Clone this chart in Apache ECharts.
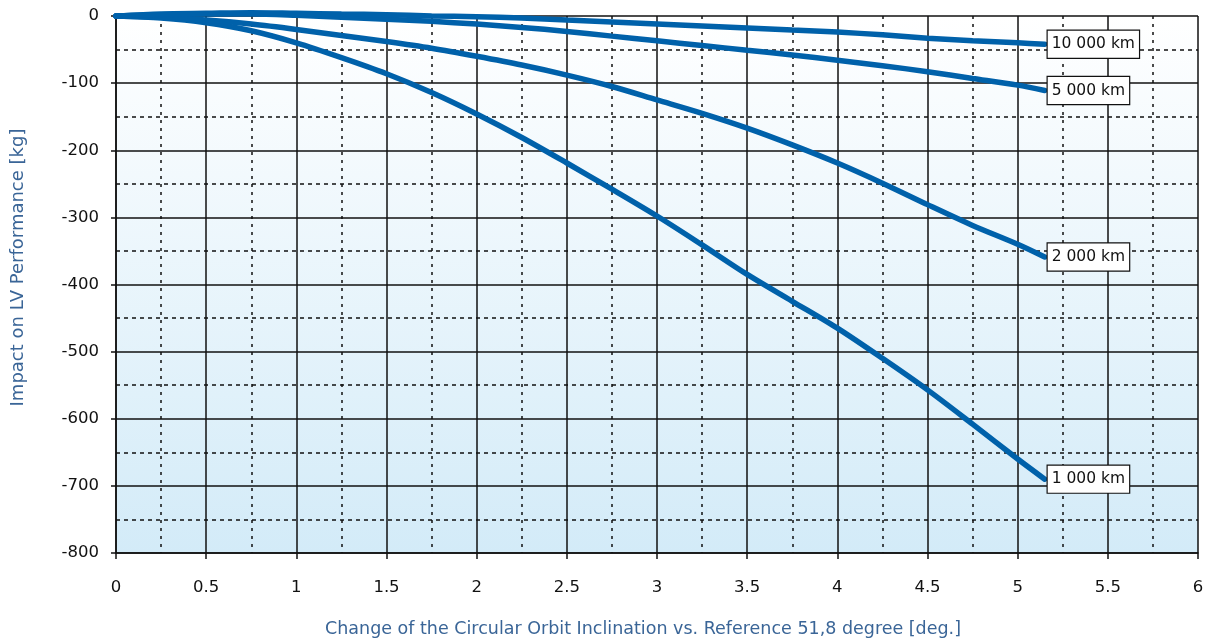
<!DOCTYPE html>
<html>
<head>
<meta charset="utf-8">
<script src="https://cdn.jsdelivr.net/npm/echarts@6/dist/echarts.min.js"></script>
<style>
  html, body { margin: 0; padding: 0; background: #ffffff; }
  #chart { width: 1209px; height: 642px; }
</style>
</head>
<body>
<div id="chart"></div>
<script>
// Inclination change [deg] at which each curve is sampled
const inclination = [0, 0.25, 0.5, 0.75, 1, 1.25, 1.5, 1.75, 2, 2.25, 2.5, 2.75, 3, 3.25, 3.5, 3.75, 4, 4.25, 4.5, 4.75, 5, 5.15];

// Performance impact [kg] per circular orbit altitude
const alt10000 = [0, 3, 4, 5, 4, 3, 2, 0, -1, -3, -6, -9, -12, -15, -18, -21, -24, -28, -33, -37, -40, -42];
const alt5000  = [0, 2, 3, 3, 1, -2, -5, -8, -12, -17, -23, -30, -37, -44, -51, -58, -66, -74, -83, -93, -103, -111];
const alt2000  = [0, -2, -6, -12, -20, -29, -38, -48, -60, -73, -88, -105, -125, -145, -167, -192, -219, -249, -281, -312, -340, -359];
const alt1000  = [0, -3, -10, -22, -40, -62, -86, -114, -146, -181, -219, -258, -298, -341, -385, -425, -465, -510, -557, -608, -660, -690];

const seriesNames = ['10 000 km', '5 000 km', '2 000 km', '1 000 km'];
const seriesValues = [alt10000, alt5000, alt2000, alt1000];

const yTicks = [0, -100, -200, -300, -400, -500, -600, -700, -800];

const chart = echarts.init(document.getElementById('chart'), null, { renderer: 'canvas' });

const lineColor = '#0061aa';
const font = '"DejaVu Sans", sans-serif';
const gridColor = '#111111';
const titleColor = '#3a6597';

const series = seriesNames.map((name, i) => ({
  name: name,
  type: 'line',
  data: inclination.map((x, j) => [x, seriesValues[i][j]]),
  smooth: 0.3,
  showSymbol: false,
  symbol: 'none',
  clip: false,
  z: 5 - i,
  lineStyle: { color: lineColor, width: 5.5, cap: 'round' },
  endLabel: {
    show: true,
    formatter: name,
    distance: 3,
    color: '#111',
    fontFamily: font,
    fontSize: 15.5,
    backgroundColor: '#ffffff',
    borderColor: '#111',
    borderWidth: 1.2,
    padding: [6, 4, 5, 4]
  }
}));

chart.setOption({
  animation: false,
  backgroundColor: '#ffffff',
  grid: {
    left: 116,
    right: 11,
    top: 16,
    bottom: 89,
    outerBoundsMode: 'none',
    containLabel: false,
    show: true,
    borderWidth: 0,
    backgroundColor: {
      type: 'linear', x: 0, y: 0, x2: 0, y2: 1,
      colorStops: [
        { offset: 0, color: '#ffffff' },
        { offset: 1, color: '#d3ebf8' }
      ]
    }
  },
  xAxis: {
    type: 'value',
    min: 0,
    max: 6,
    interval: 0.5,
    name: 'Change of the Circular Orbit Inclination vs. Reference 51,8 degree [deg.]',
    nameLocation: 'middle',
    nameGap: 67,
    nameTextStyle: { color: titleColor, fontFamily: font, fontSize: 17.5, padding: [0, 28, 0, 0] },
    axisLine: { show: true, onZero: false, lineStyle: { color: gridColor, width: 1.5 } },
    axisTick: { show: true, length: 6, lineStyle: { color: gridColor, width: 1.5 } },
    axisLabel: { color: '#111', fontFamily: font, fontSize: 16.5, margin: 26 },
    splitLine: { show: true, lineStyle: { color: gridColor, width: 1.5 } },
    minorTick: { show: false, splitNumber: 2 },
    minorSplitLine: { show: true, lineStyle: { color: gridColor, width: 1.5, type: [3, 5] } }
  },
  yAxis: {
    type: 'value',
    min: -800,
    max: 0,
    interval: 100,
    name: 'Impact on LV Performance [kg]',
    nameLocation: 'middle',
    nameGap: 89,
    nameRotate: 90,
    nameTextStyle: { color: titleColor, fontFamily: font, fontSize: 18, padding: [0, 0, 0, 34] },
    axisLine: { show: true, lineStyle: { color: gridColor, width: 1.5 } },
    axisTick: { show: true, length: 5, lineStyle: { color: gridColor, width: 1.5 } },
    axisLabel: {
      color: '#111', fontFamily: font, fontSize: 16.5, margin: 17,
      formatter: v => (yTicks.indexOf(v) >= 0 ? String(v) : '')
    },
    splitLine: { show: true, lineStyle: { color: gridColor, width: 1.5 } },
    minorTick: { show: false, splitNumber: 2 },
    minorSplitLine: { show: true, lineStyle: { color: gridColor, width: 1.5, type: [4, 4] } }
  },
  series: series
});
</script>
</body>
</html>
